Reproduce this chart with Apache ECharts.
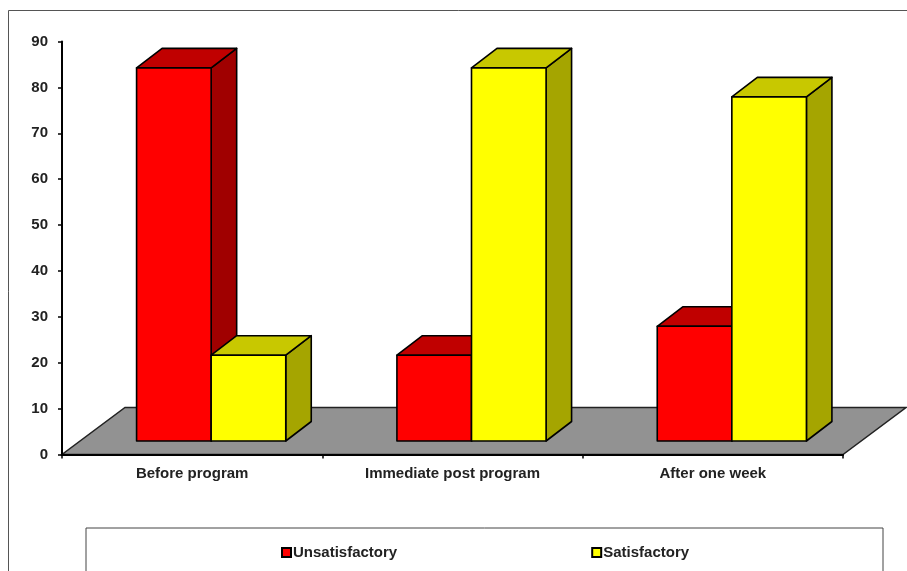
<!DOCTYPE html>
<html>
<head>
<meta charset="utf-8">
<style>
html,body{margin:0;padding:0;background:#fff;overflow:hidden}
#chart{width:907px;height:571px}
</style>
<script src="https://cdn.jsdelivr.net/npm/echarts@6/dist/echarts.min.js"></script>
</head>
<body>
<div id="chart"></div>
<script>
// Survey results by stage of the program (percent of respondents)
const categories = ['Before program', 'Immediate post program', 'After one week'];
const unsatisfactory = [81.3, 18.7, 25];
const satisfactory = [18.7, 81.3, 75];
const valueTicks = { min: 0, max: 90, interval: 10 };

// Oblique projection used for the 3-D look: pixel offsets along the depth axis
const FLOOR_DX = 63, FLOOR_DY = -47;
const BASE_DX = 19, BASE_DY = -13.5;
const DEPTH_DX = 25.5, DEPTH_DY = -19.5;
const BAR_RATIO = 0.2865;
const EDGE = { stroke: '#000', lineWidth: 1.6, lineJoin: 'round' };

function poly(points, fill) {
  return { type: 'polygon', shape: { points }, style: Object.assign({ fill }, EDGE) };
}

// One 3-D column; side = -1 sits left of the band centre, side = 0 right of it
function columnRenderer(side, colors) {
  return function (params, api) {
    const idx = api.value(0);
    const top = api.coord([idx, api.value(1)]);
    const base = api.coord([idx, 0]);
    const w = api.size([1, 0])[0] * BAR_RATIO;
    const x0 = top[0] + BASE_DX + side * w;
    const x1 = x0 + w;
    const yT = top[1] + BASE_DY;
    const yB = base[1] + BASE_DY;
    return {
      type: 'group',
      children: [
        poly([[x1, yT], [x1 + DEPTH_DX, yT + DEPTH_DY], [x1 + DEPTH_DX, yB + DEPTH_DY], [x1, yB]], colors.side),
        poly([[x0, yT], [x0 + DEPTH_DX, yT + DEPTH_DY], [x1 + DEPTH_DX, yT + DEPTH_DY], [x1, yT]], colors.top),
        poly([[x0, yT], [x1, yT], [x1, yB], [x0, yB]], colors.front)
      ]
    };
  };
}

// Grey floor plane lying on the zero line of the value axis
function floorRenderer(params, api) {
  const cs = params.coordSys;
  const y = api.coord([0, 0])[1];
  const l = cs.x, r = cs.x + cs.width;
  return {
    type: 'polygon',
    shape: { points: [[l, y], [r, y], [r + FLOOR_DX, y + FLOOR_DY], [l + FLOOR_DX, y + FLOOR_DY]] },
    style: { fill: '#929292', stroke: '#222', lineWidth: 1.5 }
  };
}

const textStyle = { fontFamily: 'Liberation Sans', fontWeight: 'bold', fontSize: 15, color: '#222' };
const chart = echarts.init(document.getElementById('chart'), null, { renderer: 'canvas' });

chart.setOption({
  animation: false,
  backgroundColor: '#fff',
  grid: { left: 62, right: 64, top: 41.5, bottom: 116.5 },
  xAxis: {
    type: 'category',
    data: categories,
    z: 5,
    axisLine: { lineStyle: { color: '#000', width: 2 } },
    axisTick: { show: true, length: 4, lineStyle: { color: '#000', width: 1.5 } },
    axisLabel: Object.assign({ margin: 12, interval: 0 }, textStyle)
  },
  yAxis: {
    type: 'value',
    min: valueTicks.min,
    max: valueTicks.max,
    interval: valueTicks.interval,
    z: 5,
    splitLine: { show: false },
    axisLine: { show: true, lineStyle: { color: '#000', width: 2 } },
    axisTick: { show: true, length: 4, lineStyle: { color: '#000', width: 1.5 } },
    axisLabel: Object.assign({ margin: 14 }, textStyle)
  },
  legend: {
    data: ['Unsatisfactory', 'Satisfactory'],
    left: 276,
    top: 540,
    orient: 'horizontal',
    itemWidth: 9,
    itemHeight: 9,
    itemGap: 194,
    itemStyle: { borderColor: '#000', borderWidth: 2 },
    icon: 'rect',
    textStyle: Object.assign({}, textStyle, { padding: [0, 0, 0, -3] }),
    selectedMode: false
  },
  graphic: [
    { type: 'rect', silent: true, z: -1, shape: { x: 8.5, y: 10.5, width: 960, height: 620 },
      style: { fill: 'none', stroke: '#555', lineWidth: 1 } },
    { type: 'rect', silent: true, z: -1, shape: { x: 86, y: 528, width: 797, height: 80 },
      style: { fill: 'none', stroke: '#444', lineWidth: 1 } }
  ],
  series: [
    { name: 'Floor', type: 'custom', renderItem: floorRenderer, data: [[0, 0]], z: 1, silent: true },
    { name: 'Unsatisfactory', type: 'custom', z: 2,
      itemStyle: { color: '#ff0000' },
      renderItem: columnRenderer(-1, { front: '#ff0000', top: '#c00000', side: '#a00000' }),
      data: unsatisfactory.map((v, i) => [i, v]) },
    { name: 'Satisfactory', type: 'custom', z: 3,
      itemStyle: { color: '#ffff00' },
      renderItem: columnRenderer(0, { front: '#ffff00', top: '#c8c800', side: '#a5a500' }),
      data: satisfactory.map((v, i) => [i, v]) }
  ]
});
</script>
</body>
</html>
